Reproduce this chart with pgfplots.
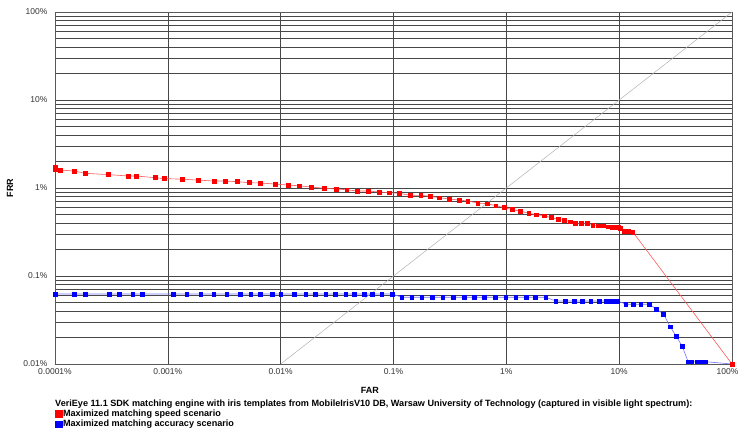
\documentclass[border=0pt]{standalone}
\usepackage{fontspec}
\setmainfont{Liberation Sans}
\usepackage{pgfplots}
\pgfplotsset{compat=1.18}
\begin{document}
\begin{tikzpicture}
\path[use as bounding box] (-55pt,-70pt) rectangle (686pt,364pt);
\begin{axis}[
  at={(0pt,0pt)}, anchor=south west,
  scale only axis, width=677pt, height=352pt,
  xmode=log, ymode=log,
  xmin=1e-4, xmax=100, ymin=0.01, ymax=100,
  xtick={1e-4,1e-3,0.01,0.1,1,10,100},
  xticklabels={0.0001\%,0.001\%,0.01\%,0.1\%,1\%,10\%,\hspace*{-9pt}100\%},
  ytick={0.01,0.1,1,10,100},
  yticklabels={0.01\%,0.1\%,1\%,10\%,100\%},
  minor ytick={0.02,0.03,0.04,0.05,0.06,0.07,0.08,0.09,0.2,0.3,0.4,0.5,0.6,0.7,0.8,0.9,2,3,4,5,6,7,8,9,20,30,40,50,60,70,80,90},
  minor xtick={},
  xmajorgrids, ymajorgrids, yminorgrids,
  major grid style={black!72, line width=0.6pt},
  minor grid style={black!72, line width=0.55pt},
  tick style={draw=none},
  axis line style={black!65, line width=0.7pt},
  tick label style={font=\fontsize{8.5}{9}\selectfont, text=black!80},
  xticklabel style={yshift=-1pt},
  yticklabel style={xshift=-4pt},
  xlabel={FAR}, ylabel={FRR},
  label style={font=\fontsize{9}{10}\selectfont\bfseries},
  xlabel style={at={(axis description cs:0.465,-0.074)}, anchor=center},
  ylabel style={at={(axis description cs:-0.0665,0.5)}, anchor=center},
  legend style={at={(axis description cs:0,-0.128)}, anchor=north west, draw=none, fill=none,
    inner sep=0pt, row sep=0.6pt, font=\fontsize{9.1}{10.5}\selectfont\bfseries,
    nodes={inner sep=0.8pt}},
  legend cell align=left,
  reverse legend,
  clip=false,
]
\addplot[gray!60, line width=0.5pt, forget plot] coordinates {(0.01,0.01) (100,100)};

\addplot[blue!55, line width=0.6pt, mark=square*, mark size=1.9pt,
  mark options={solid, draw=blue, fill=blue},
  legend image code/.code={\fill[blue] (0pt,-3pt) rectangle (6.5pt,3.5pt);}] coordinates {
(1e-4,0.0624) (1.483e-4,0.0624) (1.871e-4,0.0624) (3.01e-4,0.0624) (3.715e-4,0.0624)
(4.885e-4,0.0624) (5.94e-4,0.0624) (1.119e-3,0.0624) (1.471e-3,0.0624) (1.957e-3,0.0624)
(2.552e-3,0.0624) (3.328e-3,0.0624) (4.366e-3,0.0624) (5.431e-3,0.0624) (6.57e-3,0.0624)
(8.44e-3,0.0624) (0.01002,0.0624) (0.01315,0.0624) (0.01669,0.0624) (0.02018,0.0624)
(0.02511,0.0624) (0.03036,0.0624) (0.03778,0.0624) (0.04474,0.0624) (0.05488,0.0624)
(0.06501,0.0624) (0.0788,0.0624) (0.0978,0.0624)
(0.1185,0.0573) (0.1453,0.0573) (0.1782,0.0573) (0.2213,0.0573) (0.2736,0.0573)
(0.3396,0.0573) (0.4226,0.0573) (0.5215,0.0573) (0.6396,0.0573) (0.7957,0.0573)
(0.9899,0.0573) (1.214,0.0573) (1.498,0.0573) (1.811,0.0573) (2.240,0.0573)
(2.747,0.052) (3.321,0.052) (3.991,0.052) (4.728,0.052) (5.612,0.052)
(6.646,0.052) (7.623,0.052) (8.325,0.052) (9.218,0.052) (9.739,0.052)
(11.47,0.0477) (13.39,0.0477) (15.57,0.0477) (18.45,0.0477)
(21.28,0.0422) (24.70,0.037) (28.32,0.0265) (32.01,0.0208) (36.19,0.0159)
(40.90,0.0106) (44.11,0.0106) (48.85,0.0106) (51.51,0.0106) (55.21,0.0106) (58.70,0.0106)
(100,0.01)};
\addlegendentry{Maximized matching accuracy scenario}

\addplot[red!65, line width=0.6pt, mark=square*, mark size=1.9pt,
  mark options={solid, draw=red, fill=red},
  legend image code/.code={\fill[red] (0pt,-3pt) rectangle (6.5pt,3.5pt);}] coordinates {
(1e-4,1.74) (1e-4,1.64) (1.107e-4,1.60) (1.483e-4,1.56) (1.845e-4,1.47) (2.95e-4,1.42)
(4.44e-4,1.37) (5.23e-4,1.37) (7.70e-4,1.31) (9.25e-4,1.28) (1.336e-3,1.26)
(1.852e-3,1.23) (2.568e-3,1.20) (3.215e-3,1.20) (4.107e-3,1.18) (5.247e-3,1.15)
(6.57e-3,1.14) (8.92e-3,1.11) (0.01163,1.08) (0.01456,1.06) (0.0186,1.026)
(0.0244,0.992) (0.03098,0.974) (0.03855,0.956) (0.04757,0.924) (0.05991,0.924)
(0.07454,0.901) (0.0920,0.884) (0.1128,0.871) (0.1404,0.826) (0.1746,0.826)
(0.2112,0.805) (0.2553,0.776) (0.3130,0.750) (0.3816,0.730) (0.4557,0.712)
(0.5588,0.675) (0.6759,0.663) (0.8072,0.629) (0.9561,0.600) (1.133,0.567)
(1.334,0.545) (1.583,0.517) (1.838,0.497) (2.164,0.484) (2.496,0.460)
(2.879,0.441) (3.274,0.430) (3.678,0.414) (4.073,0.400) (4.604,0.397)
(5.236,0.397) (5.847,0.380) (6.514,0.373) (7.259,0.373) (7.940,0.363)
(8.617,0.360) (9.218,0.360) (9.858,0.354) (10.21,0.345) (11.07,0.325)
(12.09,0.322) (13.23,0.316) (100,0.01)};
\addlegendentry{Maximized matching speed scenario}

\node[anchor=west, inner sep=0pt, font=\fontsize{9.1}{10.5}\selectfont\bfseries]
  at (axis description cs:0,-0.1136)
  {VeriEye 11.1 SDK matching engine with iris templates from MobileIrisV10 DB, Warsaw University of Technology (captured in visible light spectrum):};
\end{axis}
\end{tikzpicture}
\end{document}
